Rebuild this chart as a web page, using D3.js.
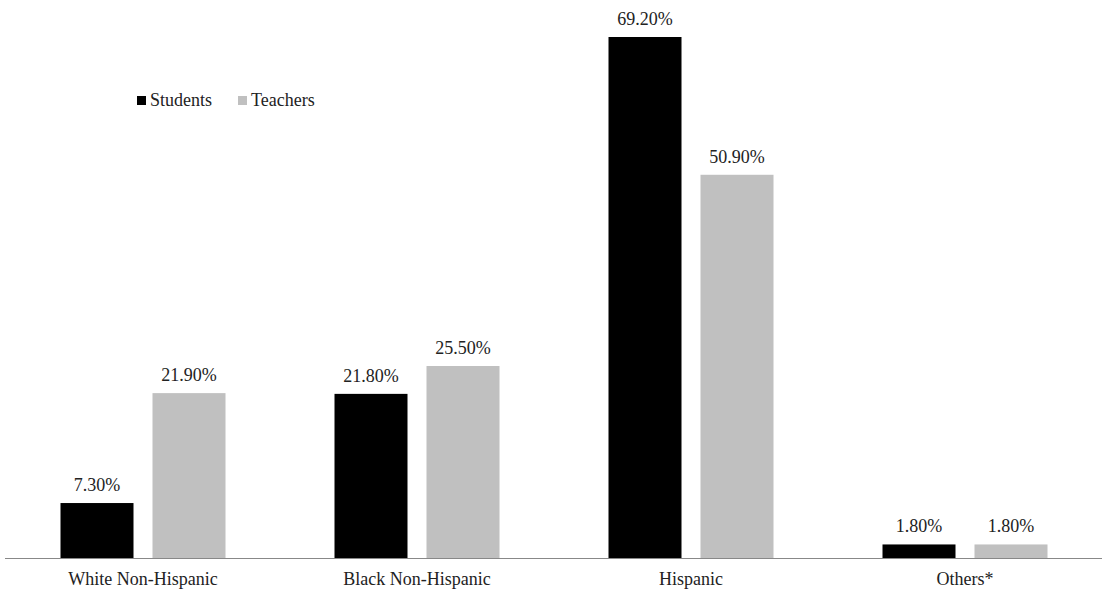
<!DOCTYPE html>
<html lang="en">
<head>
<meta charset="utf-8">
<title>Students and Teachers by Race</title>
<script src="https://cdn.jsdelivr.net/npm/d3@7"></script>
<style>
  body { margin: 0; background: #fff; }
</style>
</head>
<body>
<script>
var categories = ["White Non-Hispanic", "Black Non-Hispanic", "Hispanic", "Others*"];
var seriesNames = ["Students", "Teachers"];
var students = [7.3, 21.8, 69.2, 1.8];
var teachers = [21.9, 25.5, 50.9, 1.8];
var colors = ["#000000", "#c0c0c0"];

var w = 1102, h = 595;
var baseY = 558;
var serif = "Liberation Serif, DejaVu Serif, serif";

var svg = d3.select("body").append("svg")
  .attr("width", w)
  .attr("height", h)
  .style("font-family", serif);

var x = d3.scaleBand().domain(categories).range([6, 1102]);
var xs = d3.scaleBand().domain(seriesNames).range([0, 165]).paddingInner(19 / 92);
var y = d3.scaleLinear().domain([0, 69.2]).range([baseY, 37]);

var data = [];
categories.forEach(function(c, i) {
  data.push({ cat: c, s: "Students", v: students[i] });
  data.push({ cat: c, s: "Teachers", v: teachers[i] });
});

var off = (x.bandwidth() - 165) / 2;

svg.selectAll("rect.bar")
  .data(data)
  .enter()
  .append("rect")
  .attr("class", "bar")
  .attr("x", function(d) { return x(d.cat) + off + xs(d.s); })
  .attr("y", function(d) { return y(d.v); })
  .attr("width", xs.bandwidth())
  .attr("height", function(d) { return baseY - y(d.v); })
  .attr("fill", function(d) { return colors[seriesNames.indexOf(d.s)]; });

svg.selectAll("text.val")
  .data(data)
  .enter()
  .append("text")
  .attr("class", "val")
  .attr("x", function(d) { return x(d.cat) + off + xs(d.s) + xs.bandwidth() / 2; })
  .attr("y", function(d) { return y(d.v) - 12; })
  .attr("text-anchor", "middle")
  .style("font-family", serif)
  .style("font-size", "18px")
  .attr("fill", "#222")
  .text(function(d) { return d.v.toFixed(2) + "%"; });

// axis
var axis = d3.axisBottom(x).tickSize(0).tickPadding(14);
var g = svg.append("g").attr("transform", "translate(0," + baseY + ")").call(axis);
g.select(".domain").attr("stroke", "#888").attr("d", "M5,0.5H1102");
g.selectAll("text")
  .style("font-family", serif)
  .style("font-size", "18px")
  .attr("fill", "#222");

// legend
var legend = svg.append("g").attr("transform", "translate(137,94)");
var lx = [0, 101];
seriesNames.forEach(function(s, i) {
  legend.append("rect")
    .attr("x", lx[i]).attr("y", 2)
    .attr("width", 9).attr("height", 9)
    .attr("fill", colors[i]);
  legend.append("text")
    .attr("x", lx[i] + 13).attr("y", 12)
    .style("font-family", serif)
    .style("font-size", "18px")
    .attr("fill", "#222")
    .text(s);
});
</script>
</body>
</html>
